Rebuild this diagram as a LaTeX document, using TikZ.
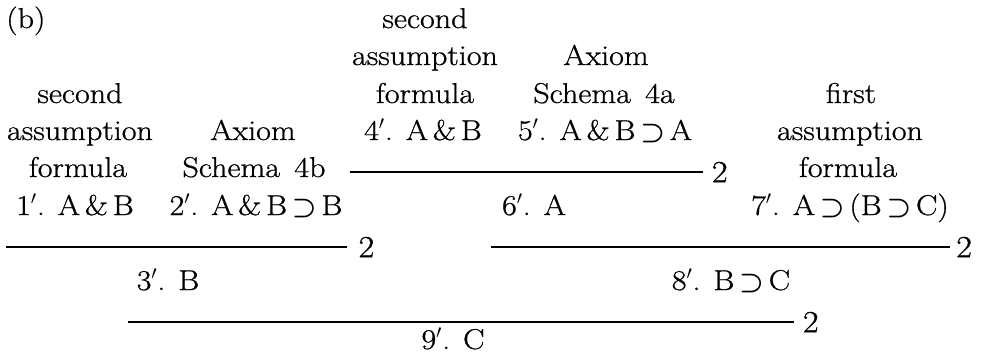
\documentclass[tikz,border=0pt]{standalone}
\usepackage{fontspec}
\usepackage{amsmath}
\setmainfont{Latin Modern Roman}[FakeStretch=1.12, FakeBold=0.8]
\begin{document}
\begin{tikzpicture}[x=0.75pt,y=-0.75pt,
  txt/.style={anchor=base, inner sep=0pt, font=\fontsize{21.5}{25}\selectfont},
  lbl/.style={anchor=west, inner sep=0pt, font=\fontsize{23}{25}\selectfont},
  rule/.style={line width=1.3pt}]
\useasboundingbox (0,0) rectangle (984,361);
\newcommand{\sch}{\hspace{0.5em}}
\newcommand{\imp}{\,$\boldsymbol{\supset}$\,}
% label
\node[txt, anchor=base west] (b) at (6,28) {(b)};
% column 1
\node[txt] (c1a) at (80,103) {second};
\node[txt] (c1b) at (80,140) {assumption};
\node[txt] (c1c) at (78,177) {formula};
\node[txt] (f1) at (75,215) {1$'$. A\,\&\,B};
% column 2
\node[txt] (c2a) at (253,140) {Axiom};
\node[txt] (c2b) at (254,177) {Schema\sch 4b};
\node[txt] (f2) at (256,215) {2$'$. A\,\&\,B\imp B};
% column 3
\node[txt] (c3a) at (425,28) {second};
\node[txt] (c3b) at (425,65) {assumption};
\node[txt] (c3c) at (425,103) {formula};
\node[txt] (f4) at (423,140) {4$'$. A\,\&\,B};
% column 4
\node[txt] (c4a) at (606,65) {Axiom};
\node[txt] (c4b) at (604,103) {Schema\sch 4a};
\node[txt] (f5) at (605,140) {5$'$. A\,\&\,B\imp A};
% column 6
\node[txt] (c6a) at (851,103) {first};
\node[txt] (c6b) at (850,140) {assumption};
\node[txt] (c6c) at (848,177) {formula};
\node[txt] (f7) at (850,215) {7$'$. A\imp(B\imp C)};
% derived lines
\node[txt] (f6) at (534,215) {6$'$. A};
\node[txt] (f3) at (168,290) {3$'$. B};
\node[txt] (f8) at (731,290) {8$'$. B\imp C};
\node[txt] (f9) at (453,349) {9$'$. C};
% inference rules
\coordinate (r1s) at (6,247);   \coordinate (r1e) at (347,247);
\coordinate (r2s) at (350,172); \coordinate (r2e) at (703,172);
\coordinate (r4s) at (491,247); \coordinate (r4e) at (950,247);
\coordinate (r3s) at (128,322); \coordinate (r3e) at (794,322);
\draw[rule] (r1s) -- (r1e) node[lbl, xshift=8pt] (n1) {2};
\draw[rule] (r2s) -- (r2e) node[lbl, xshift=6pt] (n2) {2};
\draw[rule] (r4s) -- (r4e) node[lbl, xshift=4pt] (n4) {2};
\draw[rule] (r3s) -- (r3e) node[lbl, xshift=6pt] (n3) {2};
\end{tikzpicture}
\end{document}
